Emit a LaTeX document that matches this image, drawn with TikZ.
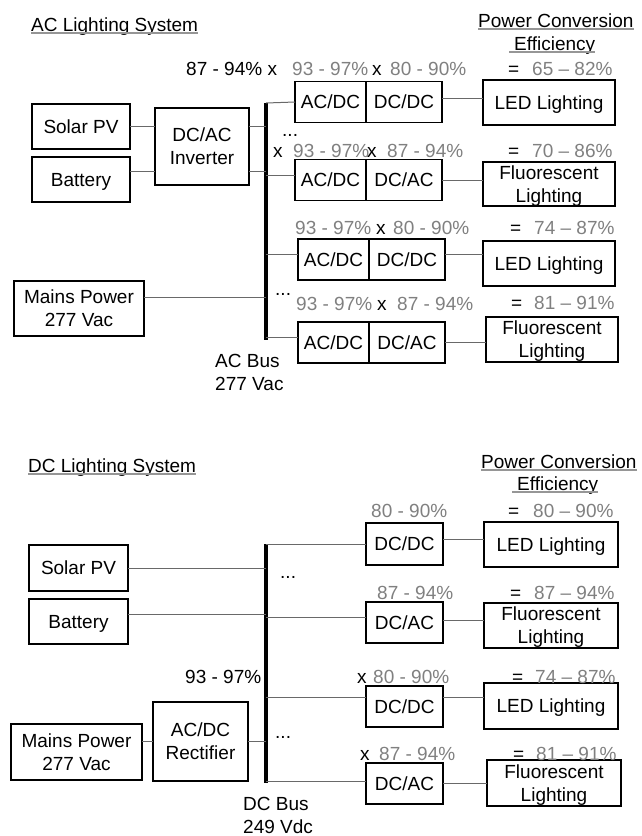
\documentclass[tikz,border=0pt]{standalone}
\usepackage{fontspec}
\setmainfont{Liberation Sans}
\usetikzlibrary{positioning}
\definecolor{pctgray}{RGB}{128,128,128}
\definecolor{wiregray}{RGB}{105,105,105}
\definecolor{ulgray}{RGB}{150,150,150}
\tikzstyle{every node}=[font=\fontsize{19}{23}\selectfont]
\tikzstyle{block}=[draw,fill=white,rectangle,line width=1.3pt,inner sep=0pt,outer sep=0pt,align=center,text depth=0pt]
\tikzstyle{two}=[block]
\tikzstyle{pct}=[inner sep=0pt,anchor=west,text height=13.6pt,text depth=0pt,text=pctgray]
\tikzstyle{op}=[pct,text=black]
\tikzstyle{head}=[inner sep=0pt,anchor=base west,align=left]
\tikzstyle{link}=[draw=wiregray,line width=1pt]
\tikzstyle{bus}=[line width=3.5pt]
\tikzstyle{uline}=[draw=ulgray,line width=1.2pt]

\begin{document}
\begin{tikzpicture}[x=1pt, y=-1pt, node distance=0pt]
            \useasboundingbox (0,0) rectangle (641,836);
            % AC lighting system
            \node[head] (acT) at (31,31) {AC Lighting System};
            \node[head] (pcA) at (478,27) {Power Conversion};
            \node[head] (effA) at (514,50) {Efficiency};
            \draw[uline] ([yshift=-2pt]acT.base west) -- ([yshift=-2pt]acT.base east);
            \draw[uline] ([yshift=-2pt]pcA.base west) -- ([yshift=-2pt]pcA.base east);
            \draw[uline] ([xshift=-5pt,yshift=-2pt]effA.base west) -- ([yshift=-2pt]effA.base east);
            \node[block, minimum width=98pt, minimum height=45pt] (solar1) at (81,126.5) {Solar PV};
            \node[block, minimum width=98pt, minimum height=45pt] (batt1) at (81,179.5) {Battery};
            \node[block, minimum width=94pt, minimum height=77pt] (inv1) at (202,146.5) {DC/AC\\Inverter};
            \node[block, minimum width=130pt, minimum height=55pt] (mains1) at (79,308.5) {Mains Power\\277 Vac};
            \coordinate (bus1top) at (266,103);
            \coordinate (bus1bot) at (266,340);
            \node[head] (acbus) at (215,390) {AC Bus\\277 Vac};
            \node[block, minimum width=71pt, minimum height=41pt] (r1a) at (330.5,102) {AC/DC};
            \node[block, minimum width=76pt, minimum height=41pt, right=of r1a] (r1b) {DC/DC};
            \node[block, minimum width=132pt, minimum height=45pt] (led1) at (549,102.5) {LED Lighting};
            \node[block, minimum width=71pt, minimum height=41pt] (r2a) at (330.5,180) {AC/DC};
            \node[block, minimum width=76pt, minimum height=41pt, right=of r2a] (r2b) {DC/AC};
            \node[two, minimum width=132pt, minimum height=44pt] (fl1) at (549,184) {Fluorescent\\Lighting};
            \node[block, minimum width=71pt, minimum height=41pt] (r3a) at (333.5,259.5) {AC/DC};
            \node[block, minimum width=76pt, minimum height=41pt, right=of r3a] (r3b) {DC/DC};
            \node[block, minimum width=132pt, minimum height=45pt] (led2) at (549,263.5) {LED Lighting};
            \node[block, minimum width=71pt, minimum height=41pt] (r4a) at (333.5,342.5) {AC/DC};
            \node[block, minimum width=76pt, minimum height=41pt, right=of r4a] (r4b) {DC/AC};
            \node[two, minimum width=132pt, minimum height=45pt] (fl2) at (552,339.5) {Fluorescent\\Lighting};
            \draw[bus] (bus1top) -- (bus1bot);
            \draw[link] (solar1.east) -- (solar1.east -| inv1.west) (solar1.east -| inv1.east) -- (solar1.east -| bus1top);
            \draw[link] ([yshift=8.5pt]batt1.east) -- ([yshift=8.5pt]batt1.east -| inv1.west) ([yshift=8.5pt]batt1.east -| inv1.east) -- ([yshift=8.5pt]batt1.east -| bus1top);
            \draw[link] ([yshift=11.5pt]mains1.east) -- ([yshift=11.5pt]mains1.east -| bus1top);
            \draw[link] (bus1top) -- (r1a.west);
            \draw[link] ([yshift=4pt]r1b.east) -- ([yshift=4pt]r1b.east -| led1.west);
            \draw[link] ([yshift=5pt]r2a.west -| bus1top) -- ([yshift=5pt]r2a.west);
            \draw[link] (r2b.east) -- (r2b.east -| fl1.west);
            \draw[link] ([yshift=5pt]r3a.west -| bus1top) -- ([yshift=5pt]r3a.west);
            \draw[link] ([yshift=5pt]r3b.east) -- ([yshift=5pt]r3b.east -| led2.west);
            \draw[link] ([yshift=5pt]r4a.west -| bus1top) -- ([yshift=5pt]r4a.west);
            \draw[link] (r4b.east) -- (r4b.east -| fl2.west);
            \node[op] (m0) at (186,69) {87 - 94\% x};
            \node[pct] (e1a) at (292,69) {93 - 97\%};
            \node[op] (x1) at (372,69) {x};
            \node[pct] (e1b) at (390,69) {80 - 90\%};
            \node[op] (q1) at (508,69) {=};
            \node[pct] (t1) at (532,69) {65 \textendash\ 82\%};
            \node[head] (dots1) at (282,136) {...};
            \node[op] (x2a) at (273,151) {x};
            \node[pct] (e2a) at (293,151) {93 - 97\%};
            \node[op] (x2b) at (367,151) {x};
            \node[pct] (e2b) at (387,151) {87 - 94\%};
            \node[op] (q2) at (508,151) {=};
            \node[pct] (t2) at (532,151) {70 \textendash\ 86\%};
            \node[pct] (e3a) at (295,228) {93 - 97\%};
            \node[op] (x3) at (376,228) {x};
            \node[pct] (e3b) at (393,228) {80 - 90\%};
            \node[op] (q3) at (510,228) {=};
            \node[pct] (t3) at (534,228) {74 \textendash\ 87\%};
            \node[head] (dots2) at (275,295) {...};
            \node[pct] (e4a) at (296,304) {93 - 97\%};
            \node[op] (x4) at (377,304) {x};
            \node[pct] (e4b) at (397,304) {87 - 94\%};
            \node[op] (q4) at (511,303) {=};
            \node[pct] (t4) at (534,303) {81 \textendash\ 91\%};
            % DC lighting system
            \node[head] (dcT) at (28,472) {DC Lighting System};
            \node[head] (pcB) at (481,468) {Power Conversion};
            \node[head] (effB) at (517,490) {Efficiency};
            \draw[uline] ([yshift=-2pt]dcT.base west) -- ([yshift=-2pt]dcT.base east);
            \draw[uline] ([yshift=-2pt]pcB.base west) -- ([yshift=-2pt]pcB.base east);
            \draw[uline] ([xshift=-5pt,yshift=-2pt]effB.base west) -- ([yshift=-2pt]effB.base east);
            \node[block, minimum width=99pt, minimum height=46pt] (solar2) at (78.5,568) {Solar PV};
            \node[block, minimum width=99pt, minimum height=45pt] (batt2) at (78.5,621.5) {Battery};
            \node[block, minimum width=131pt, minimum height=56pt] (mains2) at (76.5,752) {Mains Power\\277 Vac};
            \node[block, minimum width=95pt, minimum height=79pt] (rect) at (200.5,741.5) {AC/DC\\Rectifier};
            \coordinate (bus2top) at (266,544);
            \coordinate (bus2bot) at (266,783);
            \node[head] (dcbus) at (243,833) {DC Bus\\249 Vdc};
            \node[block, minimum width=77pt, minimum height=42pt] (d1) at (404.5,544) {DC/DC};
            \node[block, minimum width=134pt, minimum height=45pt] (led3) at (551,544.5) {LED Lighting};
            \node[block, minimum width=77pt, minimum height=41pt] (d2) at (404.5,622.5) {DC/AC};
            \node[two, minimum width=134pt, minimum height=45pt] (fl3) at (551,625.5) {Fluorescent\\Lighting};
            \node[block, minimum width=77pt, minimum height=41pt] (d3) at (404.5,706.5) {DC/DC};
            \node[block, minimum width=134pt, minimum height=46pt] (led4) at (551,706) {LED Lighting};
            \node[block, minimum width=77pt, minimum height=41pt] (d4) at (404.5,783.5) {DC/AC};
            \node[two, minimum width=134pt, minimum height=46pt] (fl4) at (554,783) {Fluorescent\\Lighting};
            \draw[bus] (bus2top) -- (bus2bot);
            \draw[link] (solar2.east) -- (solar2.east -| bus2top);
            \draw[link] ([yshift=7.5pt]batt2.east) -- ([yshift=7.5pt]batt2.east -| bus2top);
            \draw[link] ([yshift=11pt]mains2.east) -- ([yshift=11pt]mains2.east -| rect.west);
            \draw[link] (rect.east) -- (rect.east -| bus2top);
            \draw[link] (bus2top) -- (d1.west);
            \draw[link] ([yshift=5pt]d1.east) -- ([yshift=5pt]d1.east -| led3.west);
            \draw[link] ([yshift=5pt]d2.west -| bus2top) -- ([yshift=5pt]d2.west);
            \draw[link] ([yshift=2pt]d2.east) -- ([yshift=2pt]d2.east -| fl3.west);
            \draw[link] ([yshift=9.5pt]d3.west -| bus2top) -- ([yshift=9.5pt]d3.west);
            \draw[link] ([yshift=9.5pt]d3.east) -- ([yshift=9.5pt]d3.east -| led4.west);
            \draw[link] ([yshift=2.5pt]d4.west -| bus2top) -- ([yshift=2.5pt]d4.west);
            \draw[link] (d4.east) -- (d4.east -| fl4.west);
            \node[pct] (f1) at (371,511) {80 - 90\%};
            \node[op] (q5) at (508,511) {=};
            \node[pct] (t5) at (533,511) {80 \textendash\ 90\%};
            \node[head] (dots3) at (280,578) {...};
            \node[pct] (f2) at (377,593) {87 - 94\%};
            \node[op] (q6) at (510,593) {=};
            \node[pct] (t6) at (534,593) {87 \textendash\ 94\%};
            \node[op] (rectpct) at (185,677) {93 - 97\%};
            \node[op] (x7) at (357,677) {x};
            \node[pct] (f3) at (373,677) {80 - 90\%};
            \node[op] (q7) at (512,677) {=};
            \node[pct] (t7) at (535,677) {74 \textendash\ 87\%};
            \node[head] (dots4) at (275,738) {...};
            \node[op] (x8) at (360,754) {x};
            \node[pct] (f4) at (379,754) {87 - 94\%};
            \node[op] (q8) at (513,754) {=};
            \node[pct] (t8) at (536,754) {81 \textendash\ 91\%};
        \end{tikzpicture}
\end{document}
